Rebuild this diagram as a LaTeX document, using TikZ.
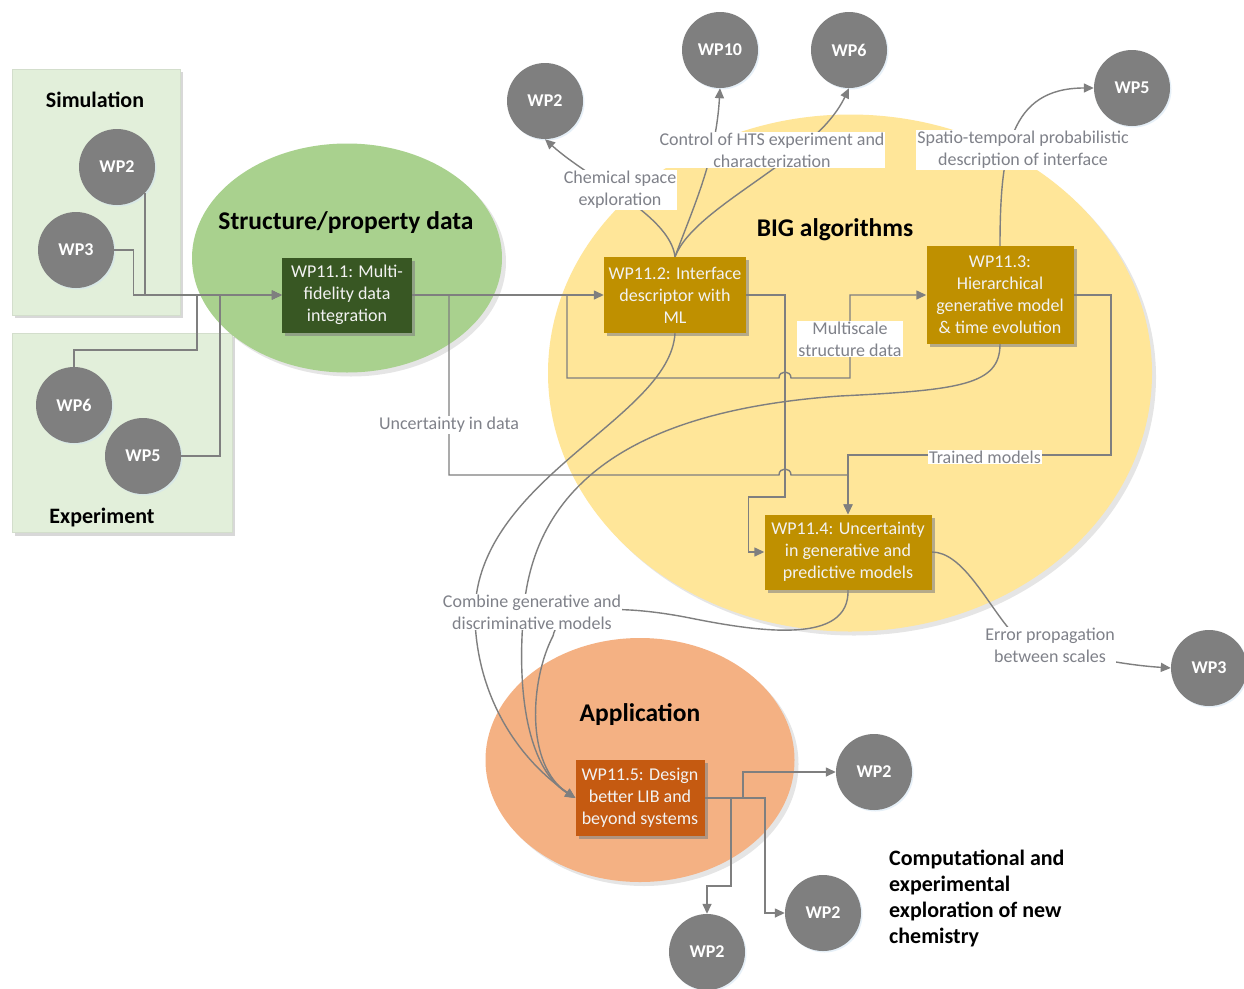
\documentclass[tikz,border=0pt]{standalone}
\usepackage{fontspec}
\setmainfont{Carlito}
\usepackage{tikz}
\usetikzlibrary{shapes.geometric, shadows, arrows.meta}

% colours of the diagram
\definecolor{wpgray}{HTML}{7F7F7F}
\definecolor{linegray}{HTML}{7F7F7F}
\definecolor{lblgray}{HTML}{7F8189}
\definecolor{glowblue}{HTML}{CFE2F3}
\definecolor{panelgreen}{HTML}{E2EFDA}
\definecolor{datagreen}{HTML}{A9D18E}
\definecolor{taskgreen}{HTML}{385723}
\definecolor{bigyellow}{HTML}{FFE699}
\definecolor{taskgold}{HTML}{BF9000}
\definecolor{appleorange}{HTML}{F4B183}
\definecolor{taskorange}{HTML}{C55A11}
\definecolor{boxtext}{HTML}{F2F2F2}

\begin{document}
\begin{tikzpicture}[x=1pt, y=-1pt, >={Triangle[length=10pt, width=9pt]},
    wp/.style={circle, fill=wpgray, minimum size=76pt, inner sep=0pt, text=white,
        font=\bfseries\fontsize{18}{20}\selectfont,
        drop shadow={fill=glowblue, shadow xshift=1.5pt, shadow yshift=-1.5pt}},
    task/.style={rectangle, inner sep=2pt, align=center, text=boxtext,
        font=\fontsize{18}{22}\selectfont,
        drop shadow={opacity=0.35, shadow xshift=3pt, shadow yshift=-3pt}},
    area/.style={ellipse, inner sep=0pt,
        drop shadow={opacity=0.2, shadow xshift=4pt, shadow yshift=-4pt}},
    panel/.style={rectangle, fill=panelgreen, draw=panelgreen!85!gray, inner sep=0pt,
        drop shadow={opacity=0.3, shadow xshift=3pt, shadow yshift=-3pt}},
    head/.style={font=\bfseries\fontsize{25.5}{28}\selectfont},
    subhead/.style={font=\bfseries\fontsize{22}{26}\selectfont},
    link/.style={draw=linegray, line width=1.4pt},
    lbl/.style={fill=white, text=lblgray, inner sep=1pt, align=center,
        font=\fontsize{18}{22}\selectfont}]

    % page size
    \useasboundingbox[fill=white] (0,0) rectangle (1244,988);

    % simulation and experiment panels
    \node[panel, minimum width=168pt, minimum height=246pt] (simBox) at (96,192) {};
    \node[panel, minimum width=220pt, minimum height=199pt] (expBox) at (122,433) {};
    \node[subhead] (simHead) at (95,100) {Simulation};
    \node[subhead] (expHead) at (102,518) {Experiment};

    % the three work areas
    \node[area, fill=datagreen, minimum width=310pt, minimum height=229pt] (ellData) at (347,258) {};
    \node[area, fill=bigyellow, minimum width=604pt, minimum height=517pt] (ellBig) at (850,373) {};
    \node[area, fill=appleorange, minimum width=309pt, minimum height=244pt] (ellApp) at (640,760) {};
    \node[head] (dataHead) at (346,222.5) {Structure/property data};
    \node[head] (bigHead) at (835,230) {BIG algorithms};
    \node[head] (appHead) at (640,715) {Application};

    % other work packages
    \node[wp] (wp2s) at (117,167) {WP2};
    \node[wp] (wp3s) at (76,250) {WP3};
    \node[wp] (wp6e) at (74,405) {WP6};
    \node[wp] (wp5e) at (143,456) {WP5};
    \node[wp] (wp2t) at (545,101) {WP2};
    \node[wp] (wp10) at (720,50) {WP10};
    \node[wp] (wp6t) at (849,50) {WP6};
    \node[wp] (wp5t) at (1132,88) {WP5};
    \node[wp] (wp3r) at (1209,668) {WP3};
    \node[wp] (wp2a) at (874,772) {WP2};
    \node[wp] (wp2b) at (823,913) {WP2};
    \node[wp] (wp2c) at (707,952) {WP2};

    % task boxes (placed first, lines end on their borders)
    \path (347,295) coordinate (c111) (675,295) coordinate (c112) (1000,295) coordinate (c113)
          (848,552) coordinate (c114) (640,798) coordinate (c115);
    \path (c111) node[task, minimum width=130pt, minimum height=75pt] (t111) {}
          (c112) node[task, minimum width=142pt, minimum height=76pt] (t112) {}
          (c113) node[task, minimum width=147pt, minimum height=98pt] (t113) {}
          (c114) node[task, minimum width=167pt, minimum height=75pt] (t114) {}
          (c115) node[task, minimum width=129pt, minimum height=76pt] (t115) {};

    % inputs into WP11.1
    \draw[link, ->] (wp2s.-43) |- (t111.west);
    \draw[link, ->] (wp3s.east) -- ++(19,0) |- (t111.west);
    \draw[link, ->] (wp6e.north) -- ++(0,-17) -| ([xshift=-85pt]t111.west) -- (t111.west);
    \draw[link, ->] (wp5e.east) -| ([xshift=-62pt]t111.west) -- (t111.west);

    % square connectors inside BIG algorithms
    \draw[link, ->] (t111.east) -- (t112.west);
    \draw[link, ->] (t111.east) -| (567,378) -- (779,378)
        .. controls (779,370) and (791,370) .. (791,378) -- (850,378) |- (t113.west);
    \draw[link, ->] (t111.east) -| (449,475) -- (779,475)
        .. controls (779,467) and (791,467) .. (791,475) -| (t114.north);
    \draw[link, ->] (t113.east) -| (1111,455) -| (t114.north);
    \draw[link, ->] (t112.east) -| (785,497) -| ([xshift=-16pt]t114.west) -- (t114.west);

    % curved connectors to other work packages
    \draw[link, ->] (t112.north) .. controls (670,215) and (590,180) .. (wp2t.south);
    \draw[link, ->] (t112.north) .. controls (692,210) and (716,160) .. (wp10.south);
    \draw[link, ->] (t112.north) .. controls (695,205) and (815,160) .. (wp6t.south);
    \draw[link, ->] (t113.north) .. controls (1000,150) and (1010,88) .. (wp5t.west);
    \draw[link, ->] (t114.east) .. controls (962,552) and (985,600) .. (1010,630)
        .. controls (1050,650) and (1110,664) .. (wp3r.west);

    % combine generative and discriminative models
    \draw[link, ->] (t112.south) .. controls (670,420) and (470,480) .. (475,620)
        .. controls (478,700) and (520,760) .. (t115.west);
    \draw[link, ->] (t113.south) .. controls (1000,385) and (960,390) .. (840,396)
        .. controls (640,410) and (530,480) .. (523,620)
        .. controls (517,700) and (530,770) .. (t115.west);
    \draw[link, ->] (t114.south) .. controls (850,645) and (760,632) .. (690,618)
        .. controls (640,608) and (560,600) .. (553,636)
        .. controls (530,680) and (525,765) .. (t115.west);

    % outputs of WP11.5
    \draw[link, ->] (t115.east) -| (743,772) -- (wp2a.west);
    \draw[link, ->] (t115.east) -| (765,913) -- (wp2b.west);
    \draw[link, ->] (t115.east) -| (731,886) -| (wp2c.north);

    % task boxes on top of the lines
    \node[task, fill=taskgreen, minimum width=130pt, minimum height=75pt] (b111) at (c111)
        {WP11.1: Multi-\\fidelity data\\integration};
    \node[task, fill=taskgold, minimum width=142pt, minimum height=76pt] (b112) at (c112)
        {WP11.2: Interface\\descriptor with\\ML};
    \node[task, fill=taskgold, minimum width=147pt, minimum height=98pt] (b113) at (c113)
        {WP11.3:\\Hierarchical\\generative model\\\& time evolution};
    \node[task, fill=taskgold, minimum width=167pt, minimum height=75pt] (b114) at (c114)
        {WP11.4: Uncertainty\\in generative and\\predictive models};
    \node[task, fill=taskorange, minimum width=129pt, minimum height=76pt] (b115) at (c115)
        {WP11.5: Design\\better LIB and\\beyond systems};

    % connector labels
    \node[lbl] (lChem) at (620,190) {Chemical space\\exploration};
    \node[lbl] (lHTS) at (772,150) {Control of HTS experiment and\\characterization};
    \node[lbl] (lSpatio) at (1023,150) {Spatio-temporal probabilistic\\description of interface};
    \node[lbl] (lMulti) at (850,339) {Multiscale\\structure data};
    \node[lbl] (lUnc) at (449,425) {Uncertainty in data};
    \node[lbl] (lTrained) at (985,457) {Trained models};
    \node[lbl] (lCombine) at (532,612) {Combine generative and\\discriminative models};
    \node[lbl] (lError) at (1050,645) {Error propagation\\between scales};

    % note at the bottom right
    \node[subhead, anchor=north west, align=left, inner sep=0pt] (noteChem) at (889,850)
        {Computational and\\experimental\\exploration of new\\chemistry};
\end{tikzpicture}
\end{document}
